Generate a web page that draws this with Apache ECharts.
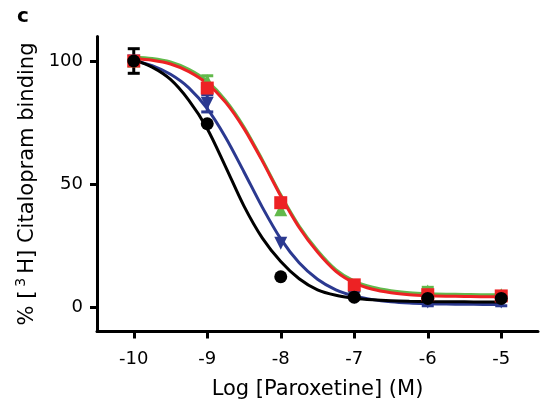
<!DOCTYPE html>
<html><head><meta charset="utf-8">
<script src="https://cdn.jsdelivr.net/npm/echarts@6/dist/echarts.min.js"></script>
<style>html,body{margin:0;padding:0;background:#fff}#c{width:541px;height:411px}</style>
</head><body><div id="c"></div>
<script>
const xTicks = [-10, -9, -8, -7, -6, -5];
const yTicks = [0, 50, 100];
const doseLog = [-10, -9, -8, -7, -6, -5];
const blackPts = [100, 74.5, 12.3, 4.0, 3.5, 3.5];
const bluePts  = [100, 82.8, 25.9, 4.0, 2.0, 2.0];
const redPts   = [100, 89.0, 42.4, 9.0, 5.0, 4.5];
const greenPts = [100, 92.0, 39.5, 8.5, 6.5, 5.0];
const blackErr = [5, 0, 0, 0, 0, 0];
const blueErr  = [0, 3.5, 0, 0, 1.5, 1.5];
const redErr   = [0, 0, 0, 0, 0, 0];
const greenErr = [0, 2.0, 0, 0, 1.5, 0];
const curveX = [-10, -9.75, -9.5, -9.25, -9, -8.75, -8.5, -8.25, -8, -7.75, -7.5, -7.25, -7, -6.75, -6.5, -6.25, -6, -5.75, -5.5, -5.25, -5];
const blackCurve = [100.5, 97.5, 92.5, 84, 72.5, 57, 41, 28, 18.5, 11.5, 7, 4.8, 3.6, 2.9, 2.5, 2.3, 2.2, 2.1, 2.1, 2.0, 2.0];
const blueCurve  = [100.2, 98.1, 94.6, 89.1, 80.6, 68.9, 54.9, 40.5, 27.7, 18, 11.3, 7.0, 4.5, 3.0, 2.1, 1.6, 1.35, 1.2, 1.1, 1.05, 1.0];
const redCurve   = [101.0, 100.3, 98.8, 95.7, 90.8, 83.2, 72.5, 59.3, 45.1, 32.3, 22.3, 14.5, 9.8, 7.2, 5.8, 5.0, 4.6, 4.4, 4.3, 4.2, 4.2];
const greenCurve = [101.5, 101.0, 99.6, 96.6, 91.8, 84.0, 73.2, 59.8, 45.6, 32.9, 23.0, 15.2, 10.5, 8.0, 6.6, 5.8, 5.4, 5.2, 5.1, 5.0, 5.0];

const FONT = 'DejaVu Sans';
const C = {black: '#000000', blue: '#2b3990', red: '#ed2224', green: '#62b94b'};

function pairs(xs, ys) { return xs.map((x, i) => [x, ys[i]]); }
function lineSeries(ys, color, z) {
  return {type: 'line', data: pairs(curveX, ys), smooth: 0.3, showSymbol: false, symbol: 'none',
    lineStyle: {color: color, width: 3}, z: z, silent: true};
}
function ptsSeries(ys, color, symbol, size, z) {
  return {type: 'scatter', data: pairs(doseLog, ys), symbol: symbol, symbolSize: size,
    itemStyle: {color: color, opacity: 1}, z: z, silent: true};
}
function errSeries(ys, errs, color, z) {
  const data = [];
  doseLog.forEach((x, i) => { if (errs[i] > 0) data.push([x, ys[i] - errs[i], ys[i] + errs[i]]); });
  return {type: 'custom', z: z, silent: true, data: data,
    renderItem: function (params, api) {
      const lo = api.coord([api.value(0), api.value(1)]);
      const hi = api.coord([api.value(0), api.value(2)]);
      const hw = 6;
      const st = {stroke: color, lineWidth: 3};
      return {type: 'group', children: [
        {type: 'line', shape: {x1: lo[0], y1: lo[1], x2: hi[0], y2: hi[1]}, style: st},
        {type: 'line', shape: {x1: lo[0] - hw, y1: lo[1], x2: lo[0] + hw, y2: lo[1]}, style: st},
        {type: 'line', shape: {x1: hi[0] - hw, y1: hi[1], x2: hi[0] + hw, y2: hi[1]}, style: st}
      ]};
    }};
}

const chart = echarts.init(document.getElementById('c'), null, {renderer: 'canvas'});
chart.setOption({
  animation: false,
  backgroundColor: '#ffffff',
  title: {text: 'c', left: 12, top: 2, textStyle: {fontFamily: FONT, fontWeight: 'bold', fontSize: 20, color: '#000'}},
  grid: {left: 97, top: 36.4, width: 441, height: 295.2, containLabel: false},
  xAxis: {
    type: 'value', min: -10.5, max: -4.5,
    name: 'Log [Paroxetine] (M)', nameLocation: 'middle', nameGap: 47,
    nameTextStyle: {fontFamily: FONT, fontSize: 21, color: '#000'},
    axisLine: {onZero: false, lineStyle: {color: '#000', width: 3}},
    axisTick: {show: true, length: 7, lineStyle: {color: '#000', width: 3}, customValues: xTicks},
    axisLabel: {fontFamily: FONT, fontSize: 18, color: '#000', margin: 19, customValues: xTicks},
    splitLine: {show: false}
  },
  yAxis: {
    type: 'value', min: -10, max: 110,
    name: '% [{sup|3}H] Citalopram binding', nameLocation: 'middle', nameGap: 53,
    nameTextStyle: {fontFamily: FONT, fontSize: 21, color: '#000',
      rich: {sup: {fontFamily: FONT, fontSize: 14, color: '#000', padding: [0, 4, 12, 4]}}},
    axisLine: {onZero: false, lineStyle: {color: '#000', width: 3}},
    axisTick: {show: true, length: 7, lineStyle: {color: '#000', width: 3}, customValues: yTicks},
    axisLabel: {fontFamily: FONT, fontSize: 18, color: '#000', margin: 14, customValues: yTicks},
    splitLine: {show: false}
  },
  series: [
    lineSeries(greenCurve, C.green, 2),
    lineSeries(blueCurve, C.blue, 3),
    lineSeries(redCurve, C.red, 4),
    lineSeries(blackCurve, C.black, 5),
    errSeries(greenPts, greenErr, C.green, 6),
    errSeries(bluePts, blueErr, C.blue, 6),
    errSeries(redPts, redErr, C.red, 6),
    errSeries(blackPts, blackErr, C.black, 6),
    ptsSeries(greenPts, C.green, 'triangle', 13, 7),
    ptsSeries(bluePts, C.blue, 'path://M0,0 L10,0 L5,9 Z', 13, 8),
    ptsSeries(redPts, C.red, 'rect', 13, 9),
    ptsSeries(blackPts, C.black, 'circle', 13, 10)
  ]
});
</script></body></html>
